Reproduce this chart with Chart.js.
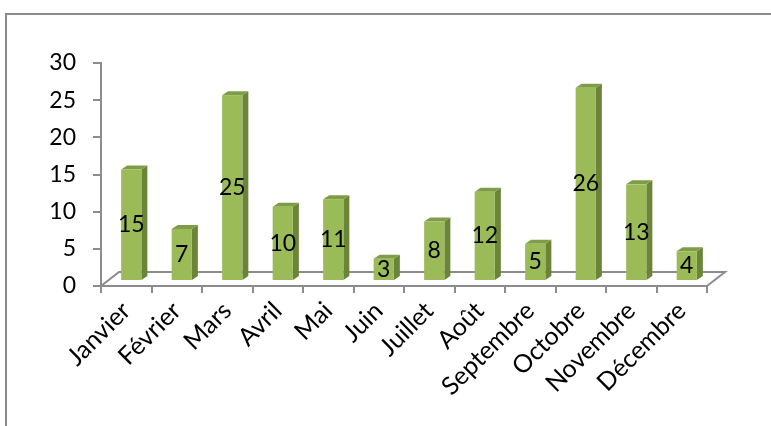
<!DOCTYPE html>
<html><head><meta charset="utf-8">
<script src="https://cdn.jsdelivr.net/npm/chart.js@4"></script>
<style>html,body{margin:0;padding:0;background:#fff;}#wrap{width:771px;height:426px;position:relative;}</style>
</head><body><div id="wrap"><canvas id="c" width="771" height="426"></canvas></div>
<script>
const categories = ['Janvier','Février','Mars','Avril','Mai','Juin','Juillet','Août','Septembre','Octobre','Novembre','Décembre'];
const values = [15,7,25,10,11,3,8,12,5,26,13,4];
const yTickValues = [0,5,10,15,20,25,30];

const FONT = 'Lato, "Open Sans", sans-serif';
const AXIS = '#8c8c8c';
const DX = 5, DY = -5, SD = 6, TD = 4;

const frame = {
  id: 'frame',
  beforeDraw(chart) {
    const ctx = chart.ctx;
    ctx.save();
    ctx.fillStyle = '#fff';
    ctx.fillRect(0, 0, chart.width, chart.height);
    ctx.strokeStyle = '#8a8a8a';
    ctx.lineWidth = 2;
    ctx.beginPath();
    ctx.moveTo(6, chart.height + 2);
    ctx.lineTo(6, 14);
    ctx.lineTo(chart.width + 2, 14);
    ctx.stroke();
    const a = chart.chartArea;
    ctx.strokeStyle = AXIS;
    ctx.lineWidth = 2;
    ctx.beginPath();
    ctx.moveTo(a.left, a.bottom);
    ctx.lineTo(a.left + 18, a.bottom - 14);
    ctx.lineTo(a.right + 18, a.bottom - 14);
    ctx.lineTo(a.right, a.bottom);
    ctx.stroke();
    ctx.restore();
  }
};

const bars3d = {
  id: 'bars3d',
  afterDatasetsDraw(chart) {
    const ctx = chart.ctx;
    const meta = chart.getDatasetMeta(0);
    ctx.save();
    meta.data.forEach((el, i) => {
      const p = el.getProps(['x', 'y', 'base', 'width'], true);
      const l = p.x - p.width / 2 + DX, r = l + p.width;
      const t = p.y + DY, b = p.base + DY;
      ctx.fillStyle = '#6a8537';
      ctx.beginPath();
      ctx.moveTo(r, t); ctx.lineTo(r + SD, t - TD); ctx.lineTo(r + SD, b - TD); ctx.lineTo(r, b); ctx.closePath(); ctx.fill();
      ctx.fillStyle = '#7f9d47';
      ctx.beginPath();
      ctx.moveTo(l, t); ctx.lineTo(l + SD, t - TD); ctx.lineTo(r + SD, t - TD); ctx.lineTo(r, t); ctx.closePath(); ctx.fill();
      ctx.fillStyle = '#9bbb59';
      ctx.fillRect(l, t, p.width, b - t);
      ctx.fillStyle = '#000';
      ctx.font = '23px ' + FONT;
      ctx.textAlign = 'center';
      ctx.textBaseline = 'middle';
      ctx.fillText(String(values[i]), (l + r) / 2, (t + b) / 2);
    });
    ctx.restore();
  }
};

new Chart(document.getElementById('c'), {
  type: 'bar',
  data: {
    labels: categories,
    datasets: [{ data: values, backgroundColor: 'rgba(0,0,0,0)', borderWidth: 0,
      barPercentage: 0.4, categoryPercentage: 1.0 }]
  },
  options: {
    responsive: false,
    animation: false,
    devicePixelRatio: 1,
    layout: { padding: { left: 0, right: 64, top: 63, bottom: 0 } },
    plugins: { legend: { display: false }, tooltip: { enabled: false } },
    scales: {
      x: {
        afterFit(s) { s.height = 140; },
        grid: { display: true, drawOnChartArea: false, drawTicks: true, tickLength: 7, color: AXIS, lineWidth: 2, offset: true },
        border: { display: true, color: AXIS, width: 2 },
        ticks: { color: '#000', font: { family: FONT, size: 25 }, minRotation: 45, maxRotation: 45, padding: 3, autoSkip: false }
      },
      y: {
        min: 0, max: 30,
        afterFit(s) { s.width = 101; },
        afterBuildTicks(s) { s.ticks = yTickValues.map(v => ({ value: v })); },
        grid: { display: true, drawOnChartArea: false, drawTicks: true, tickLength: 8, color: AXIS, lineWidth: 2 },
        border: { display: true, color: AXIS, width: 2 },
        ticks: { color: '#000', font: { family: FONT, size: 23 }, padding: 17 }
      }
    }
  },
  plugins: [frame, bars3d]
});
</script></body></html>
